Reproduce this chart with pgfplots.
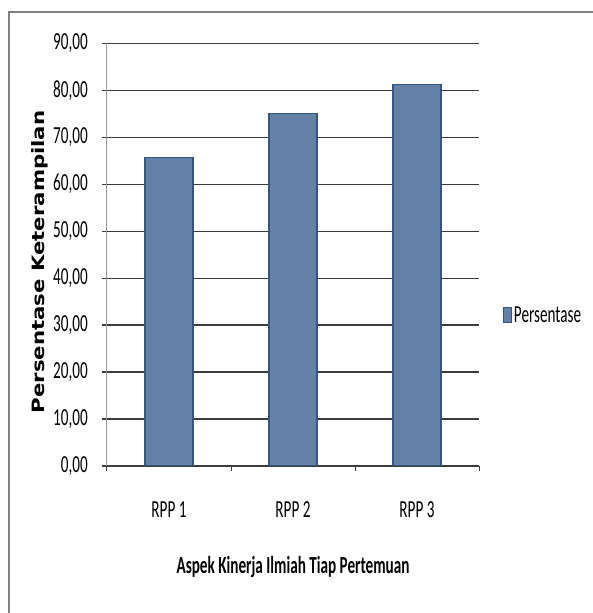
\documentclass[border=0pt]{standalone}
\usepackage{fontspec}
\setmainfont{Carlito}[FakeStretch=0.62]
\newfontfamily\labfont{DejaVu Sans}[FakeStretch=1.25]
\usepackage{pgfplots}
\pgfplotsset{compat=1.18}

\definecolor{barfill}{RGB}{101,128,166}
\definecolor{barline}{RGB}{52,86,128}
\definecolor{gridcol}{RGB}{60,60,60}
\definecolor{framecol}{RGB}{128,128,128}
\definecolor{yaxcol}{RGB}{150,150,150}

\begin{document}
\begin{tikzpicture}[x=1pt,y=1pt]
\path[use as bounding box] (0,0) rectangle (592,613);
% outer chart frame (top and left edges)
\draw[framecol, line width=2pt] (9,-2) -- (9,601) -- (594,601);
\begin{axis}[
  at={(107pt,147pt)}, anchor=south west,
  scale only axis, width=372pt, height=422.7pt,
  xmin=0.5, xmax=3.5, ymin=0, ymax=90,
  ybar, bar width=48pt,
  ytick distance=10,
  xtick={0.5,1.5,2.5,3.5}, xticklabels={,,,},
  extra x ticks={1,2,3},
  extra x tick labels={RPP 1,RPP 2,RPP 3},
  extra x tick style={major tick length=0pt},
  axis lines*=left,
  axis line style={-},
  x axis line style={draw=gridcol, line width=1.2pt},
  y axis line style={draw=yaxcol, line width=1pt},
  tick align=outside,
  major tick length=5pt,
  xtick style={draw=gridcol, line width=1pt},
  ytick style={draw=gridcol, line width=1.2pt},
  ymajorgrids,
  major grid style={draw=gridcol, line width=1.2pt},
  tick label style={font=\fontsize{24.5}{26}\selectfont},
  yticklabel style={anchor=east, inner sep=0pt, xshift=-14pt,
    /pgf/number format/fixed, /pgf/number format/fixed zerofill,
    /pgf/number format/precision=2, /pgf/number format/use comma,
    /pgf/number format/assume math mode=true},
  xticklabel style={anchor=center, yshift=-44pt},
  xlabel={\bfseries Aspek Kinerja Ilmiah Tiap Pertemuan},
  xlabel style={at={(axis description cs:0.5,-0.239)}, anchor=center,
    font=\fontsize{24.5}{26}\selectfont},
  ylabel={\labfont\bfseries Persentase Keterampilan},
  ylabel style={at={(axis description cs:-0.18,0.4826)}, anchor=center,
    font=\fontsize{17}{19}\selectfont},
  legend style={at={(axis description cs:1.0645,0.357)}, anchor=west,
    draw=none, fill=none, inner sep=0pt,
    font=\fontsize{24.5}{26}\selectfont,
    nodes={inner sep=2pt}},
  legend cell align=left,
  legend image code/.code={%
    \draw[fill=barfill, draw=barline, line width=0.8pt]
      (0pt,-7.5pt) rectangle (8pt,7.5pt);},
]
\addplot[fill=barfill, draw=barline, line width=1.2pt]
  coordinates {(1,65.7) (2,75.0) (3,81.2)};
\legend{Persentase}
\end{axis}
\end{tikzpicture}
\end{document}
